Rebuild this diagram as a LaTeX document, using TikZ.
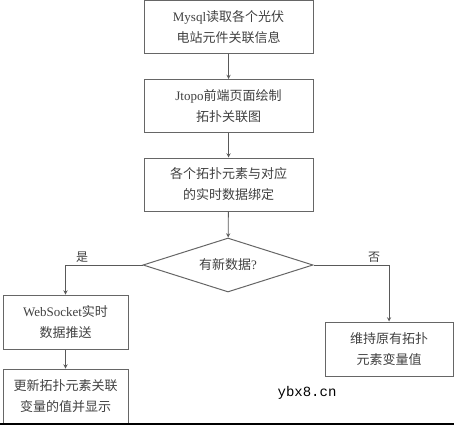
\documentclass[tikz,border=0pt]{standalone}
\usepackage{fontspec}
\setmainfont{Liberation Serif}
\newfontfamily\cjk{Noto Sans CJK SC}
\newfontfamily\wmfont{Liberation Mono}
\usetikzlibrary{shapes.geometric}
\begin{document}
\begin{tikzpicture}[x=1pt,y=-1pt,>=stealth,
		box/.style={draw=black!60,line width=1pt,minimum width=169pt,minimum height=53pt,
			align=center,text=black!75,font=\fontsize{13pt}{21pt}\selectfont},
		dec/.style={draw=black!60,line width=1pt,diamond,shape aspect=3,minimum width=170pt,
			minimum height=54pt,inner sep=1pt,text=black!75,font=\fontsize{13pt}{21pt}\selectfont},
		link/.style={->,draw=black!65,line width=0.9pt},
		tag/.style={text=black!75,font=\fontsize{12pt}{14pt}\selectfont}]
	\useasboundingbox (0,0) rectangle (454,425);
	\node[box] (read) at (228.5,27) {Mysql{\cjk 读取各个光伏}\\{\cjk 电站元件关联信息}};
	\node[box] (draw) at (228.5,106) {Jtopo{\cjk 前端页面绘制}\\{\cjk 拓扑关联图}};
	\node[box] (bind) at (228.5,184.5) {{\cjk 各个拓扑元素与对应}\\{\cjk 的实时数据绑定}};
	\node[dec] (new) at (228,265) {{\cjk 有新数据}?};
	\node[box,minimum width=125pt,minimum height=54pt] (push) at (65.5,322) {WebSocket{\cjk 实时}\\{\cjk 数据推送}};
	\node[box,minimum width=125pt,minimum height=54pt] (show) at (65.5,396) {{\cjk 更新拓扑元素关联}\\{\cjk 变量的值并显示}};
	\node[box,minimum width=128pt,minimum height=54pt] (keep) at (389,349) {{\cjk 维持原有拓扑}\\{\cjk 元素变量值}};
	\draw[link] (read) -- (draw);
	\draw[link] (draw) -- (bind);
	\draw[link] (bind) -- (new);
	\draw[link] (new.west) -| (push.north);
	\draw[link] (push) -- (show);
	\draw[link] (new.east) -| (keep.north);
	\node[tag] (yes) at (82,257) {\cjk 是};
	\node[tag] (no) at (374,257) {\cjk 否};
	\node[font=\wmfont\fontsize{14pt}{16pt}\selectfont] (mark) at (307,393) {ybx8.cn};
	\draw[line width=1.5pt] (0,424.2) -- (454,424.2);
\end{tikzpicture}
\end{document}
